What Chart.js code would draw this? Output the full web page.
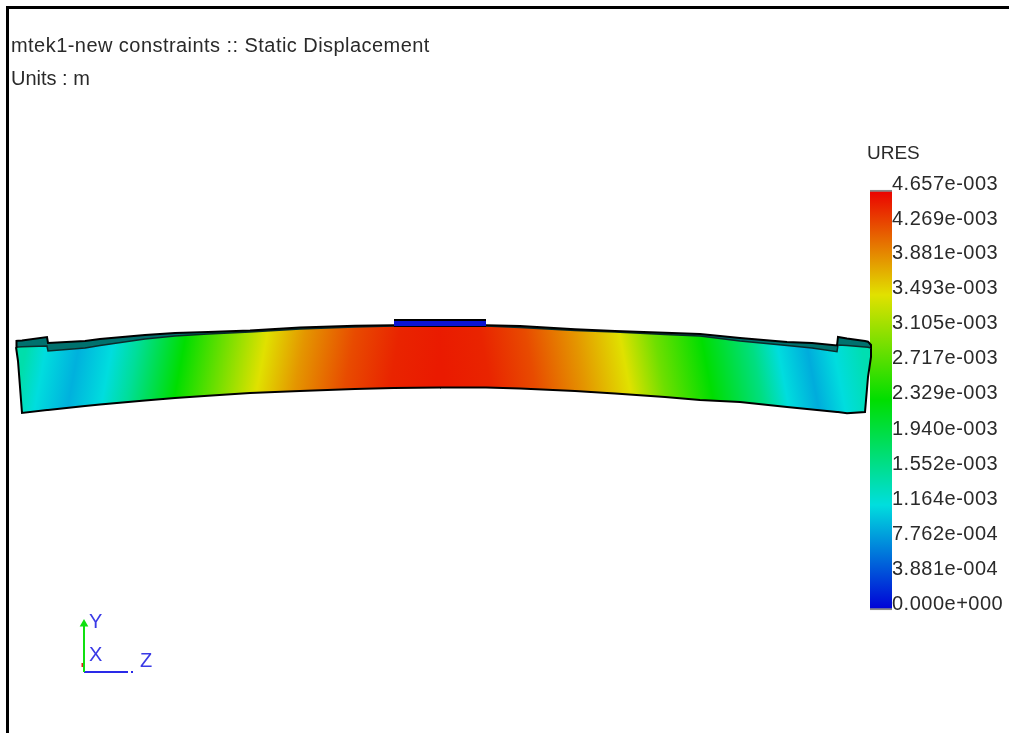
<!DOCTYPE html>
<html>
<head>
<meta charset="utf-8">
<title>Static Displacement</title>
<script src="https://cdn.jsdelivr.net/npm/chart.js@4/dist/chart.umd.min.js"></script>
<style>
  html, body { margin: 0; background: #fff; overflow: hidden; }
  #wrap { position: relative; width: 1009px; height: 733px; }
  #frame { position: absolute; left: 6px; top: 6px; right: 0; bottom: 0; border-left: 3px solid #000; border-top: 3px solid #000; }
  canvas { position: absolute; left: 0; top: 0; filter: blur(0.45px); }
</style>
</head>
<body>
<div id="wrap">
  <canvas id="fea" width="1009" height="733"></canvas>
  <div id="frame"></div>
</div>
<script>
// beam outline
const stationX = [16, 16.5, 18, 22, 47, 48, 85, 100, 145, 175, 208, 250, 300, 355, 394, 440, 441,
  486, 520, 575, 615, 665, 700, 740, 787, 812, 837, 838, 847, 865, 868, 871, 871];
const outerTop = [347, 341, 340.8, 340.4, 337, 343, 341, 339, 335, 333, 332, 330.5, 327.5, 325.7, 325.3, 325, 325,
  325.3, 326, 329.3, 331, 332.7, 334, 338, 342, 343, 345.5, 337, 338.5, 341, 341.7, 345, 348];
const innerTop = [347, 347, 347, 346.8, 346, 351, 348, 345.5, 339, 336, 334, 332, 329, 327, 326, 326, 326,
  326, 327.5, 330.5, 332, 334.5, 336, 341, 345.5, 348, 351.7, 345, 345.5, 347, 347.3, 348, 348];
const bottomEdge = [347, 347, 361, 413, 410, 410, 406, 404.5, 400.5, 398, 395.7, 393, 391, 389, 388, 387.5, 387.5,
  387.5, 388.5, 391, 393.5, 397, 400, 402, 407, 409.5, 412, 412, 413.3, 412, 377, 357, 348];
const centreStation = 15;

// URES along the beam at mid depth
const dispX = [20, 40, 73, 107, 133, 180, 220, 262, 300, 350, 395, 440, 485, 530, 580, 625, 660, 707, 757, 783, 813, 840, 868];
const dispMidY = [380, 380, 378, 375, 372, 367, 365, 362, 360, 358, 357, 356, 357, 358, 360, 363, 366, 368, 373, 376, 379, 382, 380];
const dispValue = [1.43e-3, 1.16e-3, 0.93e-3, 1.16e-3, 1.53e-3, 2.33e-3, 2.9e-3, 3.49e-3, 3.88e-3, 4.27e-3, 4.47e-3, 4.52e-3,
  4.47e-3, 4.27e-3, 3.88e-3, 3.49e-3, 2.9e-3, 2.33e-3, 1.65e-3, 1.16e-3, 0.9e-3, 1.16e-3, 1.4e-3];

const platformX = [394, 486];
const platformTop = [320, 320];
const platformBottom = [326, 326];

// colour bar
const uresTicks = [4.657e-3, 4.269e-3, 3.881e-3, 3.493e-3, 3.105e-3, 2.717e-3, 2.329e-3,
  1.940e-3, 1.552e-3, 1.164e-3, 7.762e-4, 3.881e-4, 0];
const colorValues = [0, 1.164e-3, 2.329e-3, 3.493e-3, 4.657e-3];
const colorRgb = [[0, 0, 215], [0, 222, 222], [0, 222, 0], [225, 225, 0], [235, 0, 0]];

function uresColor(v) {
  let i = 0;
  while (i < colorValues.length - 2 && v > colorValues[i + 1]) i++;
  const t = (v - colorValues[i]) / (colorValues[i + 1] - colorValues[i]);
  const c = colorRgb[i].map((a, k) => Math.round(a + (colorRgb[i + 1][k] - a) * t));
  return `rgb(${c[0]},${c[1]},${c[2]})`;
}

function points(xs, ys, from, to) {
  return xs.slice(from, to).map((x, i) => ({ x: x, y: ys[i + from] }));
}

// the iso lines lean towards the support, so each half gets a slanted gradient
function beamGradient(chart, from, to, dirY) {
  const sx = chart.scales.x, sy = chart.scales.y;
  const dx = 0.983, dy = dirY;
  const proj = [];
  for (let i = from; i < to; i++) {
    proj.push(sx.getPixelForValue(dispX[i]) * dx + sy.getPixelForValue(dispMidY[i]) * dy);
  }
  const lo = proj[0], hi = proj[proj.length - 1];
  const x0 = sx.getPixelForValue(dispX[from]), y0 = sy.getPixelForValue(dispMidY[from]);
  const len = hi - lo;
  const g = chart.ctx.createLinearGradient(x0, y0, x0 + dx * len, y0 + dy * len);
  proj.forEach((p, k) => g.addColorStop(Math.min(1, Math.max(0, (p - lo) / len)), uresColor(dispValue[from + k])));
  return g;
}

function barGradient(chart) {
  const s = chart.scales.yBar;
  const g = chart.ctx.createLinearGradient(0, s.getPixelForValue(0), 0, s.getPixelForValue(uresTicks[0]));
  colorValues.forEach((v, i) => g.addColorStop(v / uresTicks[0], uresColor(v)));
  return g;
}

const lineDefaults = { type: 'line', pointRadius: 0, tension: 0, fill: false, borderColor: '#000', borderWidth: 2, clip: false };
const splitDisp = dispX.indexOf(440);

const texts = [
  { text: 'mtek1-new constraints :: Static Displacement', x: 11, y: 52, font: '20px "Liberation Sans"', color: '#2a2a2a', spacing: '0.45px' },
  { text: 'Units : m', x: 11, y: 85, font: '20px "Liberation Sans"', color: '#2a2a2a', spacing: '0px' },
  { text: 'URES', x: 867, y: 159, font: '19px "Liberation Sans"', color: '#2a2a2a', spacing: '0px' },
  { text: 'Y', x: 89, y: 628, font: '20px "Liberation Sans"', color: '#3a3ae6', spacing: '0px' },
  { text: 'X', x: 89, y: 661, font: '20px "Liberation Sans"', color: '#3a3ae6', spacing: '0px' },
  { text: 'Z', x: 140, y: 667, font: '20px "Liberation Sans"', color: '#3a3ae6', spacing: '0px' }
];

const pageText = {
  id: 'pageText',
  beforeDraw(chart) {
    chart.ctx.letterSpacing = '0.5px';
  },
  afterDraw(chart) {
    const ctx = chart.ctx;
    ctx.save();
    ctx.textBaseline = 'alphabetic';
    ctx.textAlign = 'left';
    texts.forEach(t => {
      ctx.font = t.font;
      ctx.fillStyle = t.color;
      ctx.letterSpacing = t.spacing;
      ctx.fillText(t.text, t.x, t.y);
    });
    ctx.restore();
  }
};

new Chart(document.getElementById('fea'), {
  data: {
    datasets: [
      // triad
      { ...lineDefaults, data: points([84, 84], [672, 624], 0, 2), borderColor: '#10e010',
        pointRadius: [0, 3], pointStyle: 'triangle', pointBackgroundColor: '#10e010', pointBorderColor: '#10e010' },
      { ...lineDefaults, data: points([84, 128], [672, 672], 0, 2), borderColor: '#2a2ae8' },
      { ...lineDefaults, data: points([131, 133], [672, 672], 0, 2), borderColor: '#2a2ae8' },
      { ...lineDefaults, data: points([82.5, 82.5], [667, 663], 0, 2), borderColor: '#e02020' },
      // support plate
      { ...lineDefaults, data: points(platformX, platformTop, 0, 2), fill: '+1', backgroundColor: '#0a14d2' },
      { ...lineDefaults, data: points(platformX, platformBottom, 0, 2) },
      // top band
      { ...lineDefaults, data: points(stationX, outerTop, 0, stationX.length) },
      { ...lineDefaults, data: points(stationX, innerTop, 0, stationX.length), fill: '-1', backgroundColor: '#00716e', borderColor: '#0b2a2a', borderWidth: 1.5 },
      // left half
      { ...lineDefaults, data: points(stationX, innerTop, 0, centreStation + 2), borderWidth: 0 },
      { ...lineDefaults, data: points(stationX, bottomEdge, 0, centreStation + 2), fill: '-1',
        backgroundColor: ctx => ctx.chart.chartArea ? beamGradient(ctx.chart, 0, splitDisp + 1, 0.184) : '#0c0' },
      // right half
      { ...lineDefaults, data: points(stationX, innerTop, centreStation, stationX.length), borderWidth: 0 },
      { ...lineDefaults, data: points(stationX, bottomEdge, centreStation, stationX.length), fill: '-1',
        backgroundColor: ctx => ctx.chart.chartArea ? beamGradient(ctx.chart, splitDisp, dispX.length, -0.184) : '#0c0' },
      // colour bar
      { type: 'bar', data: [{ x: 881, y: [0, uresTicks[0]] }], yAxisID: 'yBar', grouped: false, barThickness: 22,
        clip: false, borderSkipped: false, borderColor: '#8a8a8a', borderWidth: { top: 2, bottom: 2, left: 0, right: 0 },
        backgroundColor: ctx => ctx.chart.chartArea ? barGradient(ctx.chart) : '#0c0' }
    ]
  },
  options: {
    responsive: false,
    animation: false,
    events: [],
    layout: { padding: 0, autoPadding: false },
    plugins: { legend: { display: false }, tooltip: { enabled: false } },
    scales: {
      x: { type: 'linear', min: 0, max: 892, display: false, offset: false },
      y: { type: 'linear', min: 0, max: 733, reverse: true, display: false },
      yBar: {
        type: 'linear',
        position: 'right',
        min: -1.3638e-3,
        max: 6.7637e-3,
        grid: { display: false, drawTicks: false },
        border: { display: false },
        afterFit(scale) {
          scale.width = 117;
          scale.paddingTop = 0;
          scale.paddingBottom = 0;
        },
        afterBuildTicks(scale) { scale.ticks = uresTicks.map(v => ({ value: v })); },
        ticks: {
          autoSkip: false,
          maxRotation: 0,
          padding: 0,
          labelOffset: -6,
          color: '#2a2a2a',
          font: { family: '"Liberation Sans"', size: 20 },
          callback: v => v.toExponential(3).replace(/e([+-])(\d+)/, (m, s, d) => 'e' + s + d.padStart(3, '0'))
        }
      }
    }
  },
  plugins: [pageText]
});
</script>
</body>
</html>
